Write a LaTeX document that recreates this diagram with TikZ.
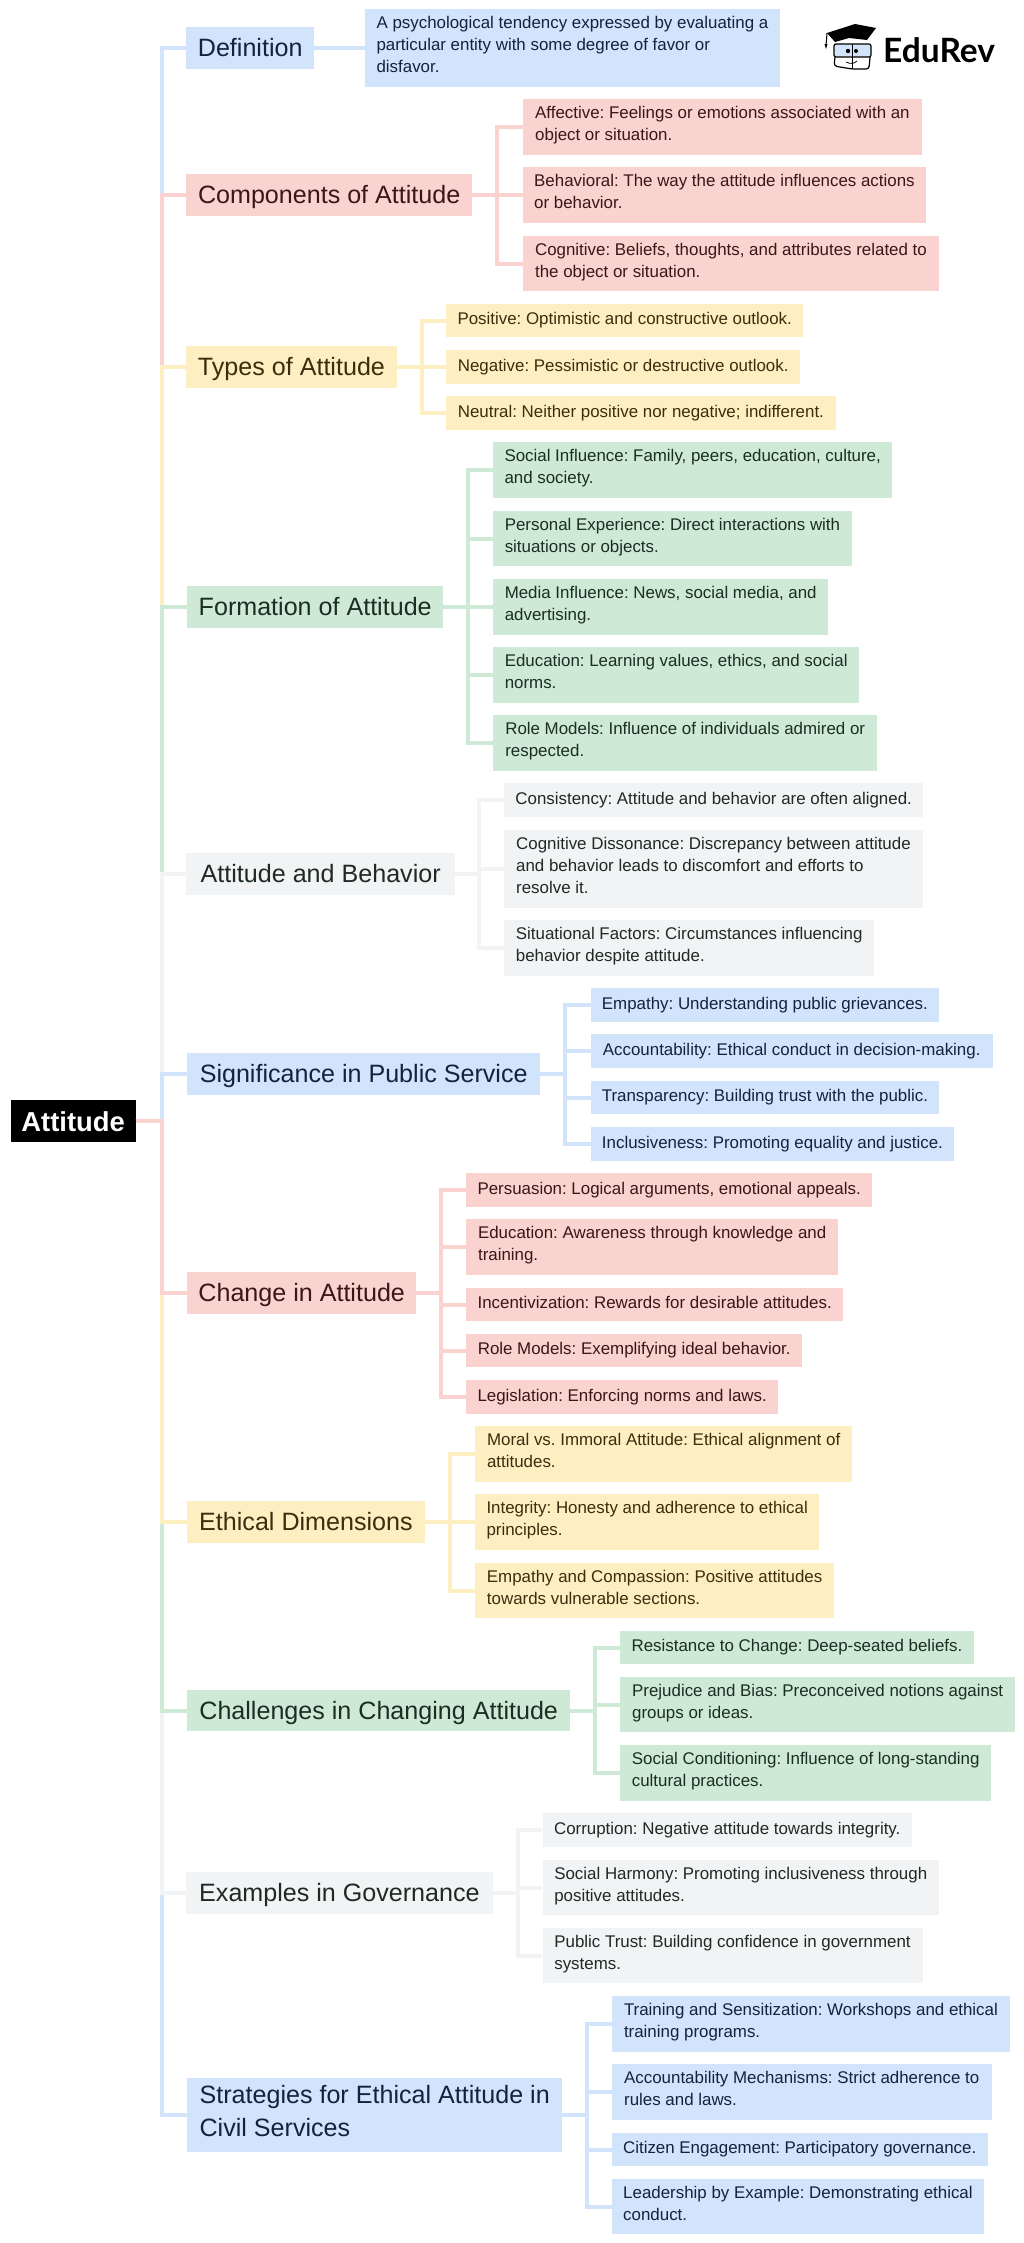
\documentclass[tikz,border=0pt]{standalone}
\usepackage{fontspec}
\setmainfont{Liberation Sans}
\newfontfamily\logofont{Lato}
\frenchspacing
\definecolor{blueback}{HTML}{D2E3FC}
\definecolor{pinkback}{HTML}{FAD2CF}
\definecolor{sandback}{HTML}{FEEFC3}
\definecolor{mintback}{HTML}{CEEAD6}
\definecolor{greyback}{HTML}{F1F3F4}
\definecolor{blueink}{HTML}{14233C}
\definecolor{pinkink}{HTML}{3C1616}
\definecolor{sandink}{HTML}{3A2E0C}
\definecolor{mintink}{HTML}{1A2E22}
\definecolor{greyink}{HTML}{1F2A26}
\newcommand\capstrut{\rule[-7.5pt]{0pt}{32.2pt}}
\tikzset{
  plate/.style={anchor=west,inner sep=0pt,align=left},
  topic/.style={plate,font=\fontsize{25.1}{33}\selectfont,minimum height=41.7pt,execute at begin node=\capstrut,execute at end node=\capstrut},
  leaf/.style={plate,font=\fontsize{16.9}{22}\selectfont,minimum height=33.5pt,execute at begin node=\strut,execute at end node=\strut},
  rows2/.style={minimum height=55.2pt},
  rows3/.style={minimum height=78pt},
  blueset/.style={fill=blueback,text=blueink},
  pinkset/.style={fill=pinkback,text=pinkink},
  sandset/.style={fill=sandback,text=sandink},
  mintset/.style={fill=mintback,text=mintink},
  greyset/.style={fill=greyback,text=greyink},
  wire/.style={line width=4pt},
}
\begin{document}
\begin{tikzpicture}[x=1pt,y=-1pt]
    \useasboundingbox (0,0) rectangle (1024,2243);
    \node[plate,fill=black,text=white,align=center,font=\fontsize{27.4}{36}\bfseries\selectfont,minimum width=125pt,minimum height=42.5pt,execute at begin node={\rule[-6pt]{0pt}{32pt}}] (root) at (10.5,1121) {Attitude};

    \node[topic,blueset,minimum width=128pt] (defn) at (186,48) {Definition};
    \node[leaf,rows3,blueset,minimum width=415.5pt] (defnA) at (364.5,48) {A psychological tendency expressed by evaluating a\\particular entity with some degree of favor or\\disfavor.};

    \node[topic,pinkset,minimum width=286pt] (comp) at (186,195) {Components of Attitude};
    \node[leaf,rows2,pinkset,minimum width=399.5pt] (compA) at (522.5,127) {Affective: Feelings or emotions associated with an\\object or situation.};
    \node[leaf,rows2,pinkset,minimum width=403.5pt] (compB) at (522.5,195) {Behavioral: The way the attitude influences actions\\or behavior.};
    \node[leaf,rows2,pinkset,minimum width=416.5pt] (compC) at (522.5,263.5) {Cognitive: Beliefs, thoughts, and attributes related to\\the object or situation.};

    \node[topic,sandset,minimum width=210.5pt] (type) at (186,367) {Types of Attitude};
    \node[leaf,sandset,minimum width=357pt] (typeA) at (446,320.5) {Positive: Optimistic and constructive outlook.};
    \node[leaf,sandset,minimum width=354pt] (typeB) at (446,367) {Negative: Pessimistic or destructive outlook.};
    \node[leaf,sandset,minimum width=389.4pt] (typeC) at (446,413) {Neutral: Neither positive nor negative; indifferent.};

    \node[topic,mintset,minimum width=256pt] (form) at (187,607) {Formation of Attitude};
    \node[leaf,rows2,mintset,minimum width=399pt] (formA) at (493,470) {Social Influence: Family, peers, education, culture,\\and society.};
    \node[leaf,rows2,mintset,minimum width=358.5pt] (formB) at (493,538.5) {Personal Experience: Direct interactions with\\situations or objects.};
    \node[leaf,rows2,mintset,minimum width=335pt] (formC) at (493,607) {Media Influence: News, social media, and\\advertising.};
    \node[leaf,rows2,mintset,minimum width=366pt] (formD) at (493,675) {Education: Learning values, ethics, and social\\norms.};
    \node[leaf,rows2,mintset,minimum width=384pt] (formE) at (493,743) {Role Models: Influence of individuals admired or\\respected.};

    \node[topic,greyset,minimum width=269pt] (behv) at (186,874) {Attitude and Behavior};
    \node[leaf,greyset,minimum width=419pt] (behvA) at (504,800) {Consistency: Attitude and behavior are often aligned.};
    \node[leaf,rows3,greyset,minimum width=418.5pt] (behvB) at (504,869) {Cognitive Dissonance: Discrepancy between attitude\\and behavior leads to discomfort and efforts to\\resolve it.};
    \node[leaf,rows2,greyset,minimum width=370pt] (behvC) at (504,948) {Situational Factors: Circumstances influencing\\behavior despite attitude.};

    \node[topic,blueset,minimum width=353pt] (sign) at (187,1074) {Significance in Public Service};
    \node[leaf,blueset,minimum width=348.5pt] (signA) at (590.5,1005) {Empathy: Understanding public grievances.};
    \node[leaf,blueset,minimum width=402pt] (signB) at (590.5,1051) {Accountability: Ethical conduct in decision-making.};
    \node[leaf,blueset,minimum width=348.5pt] (signC) at (590.5,1097.5) {Transparency: Building trust with the public.};
    \node[leaf,blueset,minimum width=363.5pt] (signD) at (590.5,1144) {Inclusiveness: Promoting equality and justice.};

    \node[topic,pinkset,minimum width=229pt] (chng) at (187,1293) {Change in Attitude};
    \node[leaf,pinkset,minimum width=406pt] (chngA) at (466,1190) {Persuasion: Logical arguments, emotional appeals.};
    \node[leaf,rows2,pinkset,minimum width=372pt] (chngB) at (466,1247) {Education: Awareness through knowledge and\\training.};
    \node[leaf,pinkset,minimum width=377pt] (chngC) at (466,1304.5) {Incentivization: Rewards for desirable attitudes.};
    \node[leaf,pinkset,minimum width=336pt] (chngD) at (466,1350.5) {Role Models: Exemplifying ideal behavior.};
    \node[leaf,pinkset,minimum width=312pt] (chngE) at (466,1397) {Legislation: Enforcing norms and laws.};

    \node[topic,sandset,minimum width=237.5pt] (ethc) at (187,1522) {Ethical Dimensions};
    \node[leaf,rows2,sandset,minimum width=377.5pt] (ethcA) at (474.7,1454) {Moral vs. Immoral Attitude: Ethical alignment of\\attitudes.};
    \node[leaf,rows2,sandset,minimum width=344.5pt] (ethcB) at (474.7,1522) {Integrity: Honesty and adherence to ethical\\principles.};
    \node[leaf,rows2,sandset,minimum width=359.5pt] (ethcC) at (474.7,1590.5) {Empathy and Compassion: Positive attitudes\\towards vulnerable sections.};

    \node[topic,mintset,minimum width=383pt] (chal) at (187,1710.5) {Challenges in Changing Attitude};
    \node[leaf,mintset,minimum width=353.5pt] (chalA) at (620,1647.5) {Resistance to Change: Deep-seated beliefs.};
    \node[leaf,rows2,mintset,minimum width=395pt] (chalB) at (620,1704.5) {Prejudice and Bias: Preconceived notions against\\groups or ideas.};
    \node[leaf,rows2,mintset,minimum width=371pt] (chalC) at (620,1773) {Social Conditioning: Influence of long-standing\\cultural practices.};

    \node[topic,greyset,minimum width=306.5pt] (exmp) at (186,1893) {Examples in Governance};
    \node[leaf,greyset,minimum width=369.5pt] (exmpA) at (542.3,1830) {Corruption: Negative attitude towards integrity.};
    \node[leaf,rows2,greyset,minimum width=396.5pt] (exmpB) at (542.3,1887.5) {Social Harmony: Promoting inclusiveness through\\positive attitudes.};
    \node[leaf,rows2,greyset,minimum width=380pt] (exmpC) at (542.3,1955.5) {Public Trust: Building confidence in government\\systems.};

    \node[topic,blueset,minimum width=375pt,minimum height=74.7pt] (strg) at (187,2115) {Strategies for Ethical Attitude in\\Civil Services};
    \node[leaf,rows2,blueset,minimum width=398.5pt] (strgA) at (611.5,2024) {Training and Sensitization: Workshops and ethical\\training programs.};
    \node[leaf,rows2,blueset,minimum width=380pt] (strgB) at (611.5,2092) {Accountability Mechanisms: Strict adherence to\\rules and laws.};
    \node[leaf,blueset,minimum width=376pt] (strgC) at (611.5,2149.5) {Citizen Engagement: Participatory governance.};
    \node[leaf,rows2,blueset,minimum width=372.5pt] (strgD) at (611.5,2206.5) {Leadership by Example: Demonstrating ethical\\conduct.};

    % trunk, farthest branches first
    \draw[wire,blueback] (root.east) -- ++(26.5,0) |- (defn.west);
    \draw[wire,pinkback] (root.east) -- ++(26.5,0) |- (comp.west);
    \draw[wire,sandback] (root.east) -- ++(26.5,0) |- (type.west);
    \draw[wire,mintback] (root.east) -- ++(26.5,0) |- (form.west);
    \draw[wire,greyback] (root.east) -- ++(26.5,0) |- (behv.west);
    \draw[wire,blueback] (root.east) -- ++(26.5,0) |- (sign.west);
    \draw[wire,blueback] (root.east) -- ++(26.5,0) |- (strg.west);
    \draw[wire,greyback] (root.east) -- ++(26.5,0) |- (exmp.west);
    \draw[wire,mintback] (root.east) -- ++(26.5,0) |- (chal.west);
    \draw[wire,sandback] (root.east) -- ++(26.5,0) |- (ethc.west);
    \draw[wire,pinkback] (root.east) -- ++(26.5,0) |- (chng.west);

    \draw[wire,blueback] (defn.east) -- (defnA.west);

    \draw[wire,pinkback] (comp.east) -- ++(25,0) |- (compA.west);
    \draw[wire,pinkback] (comp.east) -- (compB.west);
    \draw[wire,pinkback] (comp.east) -- ++(25,0) |- (compC.west);

    \draw[wire,sandback] (type.east) -- ++(25,0) |- (typeA.west);
    \draw[wire,sandback] (type.east) -- (typeB.west);
    \draw[wire,sandback] (type.east) -- ++(25,0) |- (typeC.west);

    \draw[wire,mintback] (form.east) -- ++(25,0) |- (formA.west);
    \draw[wire,mintback] (form.east) -- ++(25,0) |- (formB.west);
    \draw[wire,mintback] (form.east) -- (formC.west);
    \draw[wire,mintback] (form.east) -- ++(25,0) |- (formD.west);
    \draw[wire,mintback] (form.east) -- ++(25,0) |- (formE.west);

    \draw[wire,greyback] (behv.east) -- ++(24,0) |- (behvA.west);
    \draw[wire,greyback] (behv.east) -- ++(24,0) |- (behvB.west);
    \draw[wire,greyback] (behv.east) -- ++(24,0) |- (behvC.west);

    \draw[wire,blueback] (sign.east) -- ++(25,0) |- (signA.west);
    \draw[wire,blueback] (sign.east) -- ++(25,0) |- (signB.west);
    \draw[wire,blueback] (sign.east) -- ++(25,0) |- (signC.west);
    \draw[wire,blueback] (sign.east) -- ++(25,0) |- (signD.west);

    \draw[wire,pinkback] (chng.east) -- ++(25,0) |- (chngA.west);
    \draw[wire,pinkback] (chng.east) -- ++(25,0) |- (chngB.west);
    \draw[wire,pinkback] (chng.east) -- ++(25,0) |- (chngC.west);
    \draw[wire,pinkback] (chng.east) -- ++(25,0) |- (chngD.west);
    \draw[wire,pinkback] (chng.east) -- ++(25,0) |- (chngE.west);

    \draw[wire,sandback] (ethc.east) -- ++(25,0) |- (ethcA.west);
    \draw[wire,sandback] (ethc.east) -- (ethcB.west);
    \draw[wire,sandback] (ethc.east) -- ++(25,0) |- (ethcC.west);

    \draw[wire,mintback] (chal.east) -- ++(25,0) |- (chalA.west);
    \draw[wire,mintback] (chal.east) -- ++(25,0) |- (chalB.west);
    \draw[wire,mintback] (chal.east) -- ++(25,0) |- (chalC.west);

    \draw[wire,greyback] (exmp.east) -- ++(25,0) |- (exmpA.west);
    \draw[wire,greyback] (exmp.east) -- ++(25,0) |- (exmpB.west);
    \draw[wire,greyback] (exmp.east) -- ++(25,0) |- (exmpC.west);

    \draw[wire,blueback] (strg.east) -- ++(25,0) |- (strgA.west);
    \draw[wire,blueback] (strg.east) -- ++(25,0) |- (strgB.west);
    \draw[wire,blueback] (strg.east) -- ++(25,0) |- (strgC.west);
    \draw[wire,blueback] (strg.east) -- ++(25,0) |- (strgD.west);

    % logo
    \node[anchor=base west,inner sep=0pt,font=\fontsize{33.5}{36}\logofont\bfseries\selectfont] (logo) at (883,62) {EduRev};
    \fill[black] (827,33) -- (855,24) -- (876,28) -- (867,40) -- (849,38) -- (835,42) -- cycle;
    \draw[black,line width=1pt] (827,33) -- (826,46);
    \fill[black] (826,49) -- (824.5,44) -- (827.5,44) -- cycle;
    \draw[black,line width=1.2pt,fill=blueback,rounded corners=2pt] (834,44) rectangle (871,57);
    \draw[black,line width=1.2pt,rounded corners=3pt] (835,57) -- (834,66) -- (852,69) -- (869,69) -- (870,57);
    \draw[black,line width=1pt] (852,44) -- (852,69);
    \draw[black,line width=0.8pt] (846,62) .. controls (850,64) and (854,64) .. (857,61);
    \fill[black] (848,51) circle (2.2) (856,51) circle (2);
\end{tikzpicture}
\end{document}
